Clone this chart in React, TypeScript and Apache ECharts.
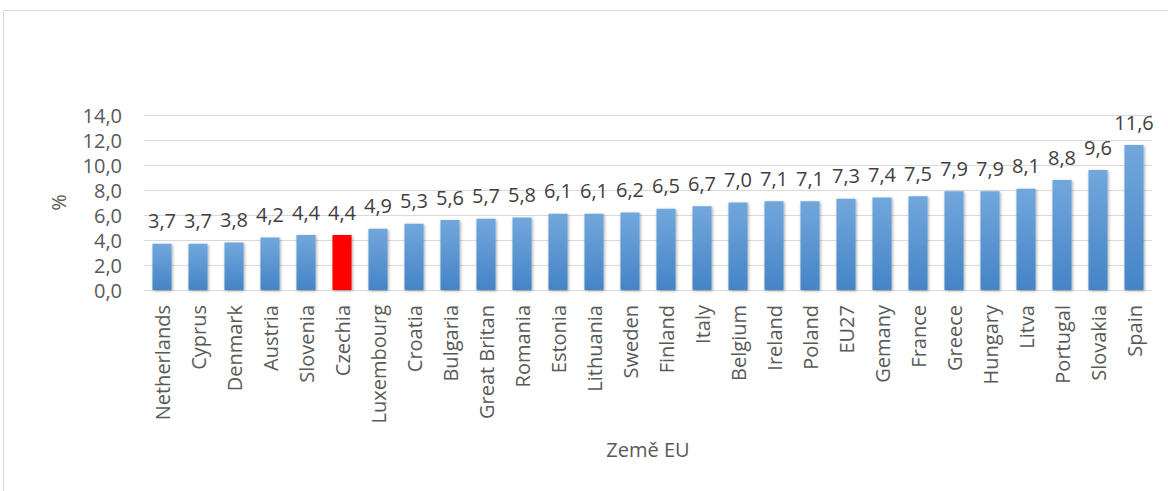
import React, { useEffect, useRef } from "react";
import * as echarts from "echarts";

const categories = ["Netherlands", "Cyprus", "Denmark", "Austria", "Slovenia", "Czechia", "Luxembourg", "Croatia", "Bulgaria", "Great Britan", "Romania", "Estonia", "Lithuania", "Sweden", "Finland", "Italy", "Belgium", "Ireland", "Poland", "EU27", "Gemany", "France", "Greece", "Hungary", "Litva", "Portugal", "Slovakia", "Spain"];
const values = [3.7, 3.7, 3.8, 4.2, 4.4, 4.4, 4.9, 5.3, 5.6, 5.7, 5.8, 6.1, 6.1, 6.2, 6.5, 6.7, 7.0, 7.1, 7.1, 7.3, 7.4, 7.5, 7.9, 7.9, 8.1, 8.8, 9.6, 11.6];
const highlighted = "Czechia";
const yTicks = { min: 0, max: 14, interval: 2 };

const fmt = (v: number) => v.toFixed(1).replace(".", ",");
const FONT = "'Open Sans', 'Liberation Sans', sans-serif";
const TEXT = "#595959";

export default function App() {
  const ref = useRef<HTMLDivElement>(null);
  useEffect(() => {
    if (!ref.current) return;
    const chart = echarts.init(ref.current, null, { renderer: "svg" });
    const blue = new echarts.graphic.LinearGradient(0, 0, 0, 1, [
      { offset: 0, color: "#72a7dc" },
      { offset: 1, color: "#4584c6" },
    ]);
    chart.setOption({
      animation: false,
      backgroundColor: "#ffffff",
      textStyle: { fontFamily: FONT },
      graphic: [
        {
          type: "rect",
          shape: { x: 3.5, y: 10.5, width: 1180, height: 500 },
          style: { fill: "none", stroke: "#d9d9d9", lineWidth: 1 },
          silent: true,
        },
      ],
      grid: { left: 144, right: 16, top: 115, bottom: 201, containLabel: false },
      xAxis: {
        type: "category",
        data: categories,
        name: "Země EU",
        nameLocation: "middle",
        nameGap: 149,
        nameTextStyle: { color: TEXT, fontSize: 20, fontFamily: FONT },
        axisLine: { show: true, lineStyle: { color: "#d9d9d9", width: 1 } },
        axisTick: { show: false },
        axisLabel: { rotate: 90, color: TEXT, fontSize: 20, fontFamily: FONT, margin: 15, interval: 0 },
      },
      yAxis: {
        type: "value",
        min: yTicks.min,
        max: yTicks.max,
        interval: yTicks.interval,
        name: "%",
        nameLocation: "middle",
        nameGap: 76,
        nameRotate: 90,
        nameTextStyle: { color: TEXT, fontSize: 20, fontFamily: FONT },
        axisLine: { show: false },
        axisTick: { show: false },
        splitLine: { lineStyle: { color: "#d9d9d9", width: 1 } },
        axisLabel: { color: TEXT, fontSize: 20, fontFamily: FONT, margin: 22, formatter: (v: number) => fmt(v) },
      },
      series: [
        {
          type: "bar",
          barWidth: "53%",
          data: values.map((v, i) => ({
            value: v,
            itemStyle: {
              color: categories[i] === highlighted ? "#ff0000" : blue,
            },
          })),
          itemStyle: {
            shadowBlur: 3,
            shadowColor: "rgba(0,0,0,0.35)",
            shadowOffsetX: 1,
            shadowOffsetY: 1,
          },
          label: {
            show: true,
            position: "top",
            distance: 13,
            color: "#404040",
            fontSize: 20,
            fontFamily: FONT,
            formatter: (p: any) => fmt(p.value),
          },
        },
      ],
    });
    return () => chart.dispose();
  }, []);
  return (
    <div
      ref={ref}
      style={{ position: "fixed", left: 0, top: 0, width: 1168, height: 491 }}
    />
  );
}
